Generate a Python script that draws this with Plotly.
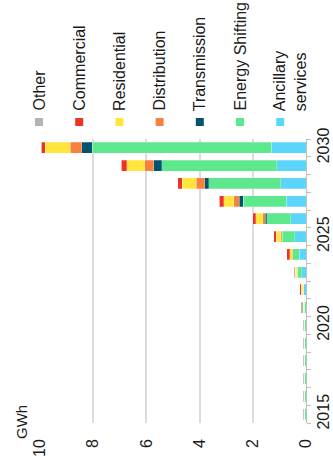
import plotly.graph_objects as go

# ---- data (GWh) ----
years = list(range(2015, 2031))
ancillary       = [0, 0, 0, 0, 0, 0, 0, 0.08, 0.16, 0.26, 0.43, 0.58, 0.74, 0.95, 1.10, 1.31]
energy_shifting = [0.07, 0.07, 0.07, 0.07, 0.07, 0.07, 0.06, 0.03, 0.17, 0.24, 0.47, 0.90, 1.62, 2.70, 4.33, 6.72]
transmission    = [0, 0, 0, 0, 0, 0, 0, 0, 0, 0, 0.01, 0.05, 0.15, 0.16, 0.30, 0.41]
distribution    = [0, 0, 0, 0, 0, 0, 0, 0.02, 0.01, 0.02, 0.04, 0.09, 0.20, 0.32, 0.33, 0.43]
residential     = [0, 0, 0, 0, 0, 0, 0.04, 0.04, 0.06, 0.10, 0.16, 0.26, 0.38, 0.53, 0.68, 0.94]
commercial      = [0, 0, 0, 0, 0, 0, 0, 0.06, 0.05, 0.10, 0.10, 0.13, 0.17, 0.17, 0.21, 0.15]
other           = [0.03, 0.03, 0.03, 0.03, 0.03, 0.03, 0.09, 0, 0, 0, 0, 0, 0, 0, 0, 0]

x_ticks = [0, 2, 4, 6, 8, 10]
year_labels = [2015, 2020, 2025, 2030]

# stacking order: from zero outward
series = [
    ("Ancillary<br>services", ancillary, "#5bd5fb"),
    ("Energy Shifting", energy_shifting, "#5ee88d"),
    ("Transmission", transmission, "#005470"),
    ("Distribution", distribution, "#f6823e"),
    ("Residential", residential, "#ffe53c"),
    ("Commercial", commercial, "#ee3326"),
    ("Other", other, "#b3b3b3"),
]

FONT = "Liberation Sans, Arial, sans-serif"
W, H = 333, 466
ML, MR, MT, MB = 40, 27, 139, 43
PW, PH = W - ML - MR, H - MT - MB

def px2paper_x(px):
    return (px - ML) / PW

def px2paper_y(py):
    return (H - MB - py) / PH

fig = go.Figure()
for name, vals, col in series:
    fig.add_trace(go.Bar(
        x=vals, y=years, orientation="h", name=name,
        marker=dict(color=col, line=dict(color="rgba(255,255,255,0.5)", width=0.5)),
        showlegend=False,
    ))
# invisible trace to carry the labelled year axis
fig.add_trace(go.Scatter(x=[None], y=[None], yaxis="y2", showlegend=False,
                         hoverinfo="skip"))

annotations = []
shapes = []

# custom rotated legend (left to right: Other ... Ancillary)
legend_items = list(reversed(series))
for i, (name, vals, col) in enumerate(legend_items):
    cx = 39 + i * 40.2
    shapes.append(dict(type="rect", xref="paper", yref="paper",
                       x0=px2paper_x(cx - 4), x1=px2paper_x(cx + 4),
                       y0=px2paper_y(126), y1=px2paper_y(118),
                       fillcolor=col, line=dict(width=0)))
    tx = cx if "<br>" not in name else cx + 10
    annotations.append(dict(text=name, xref="paper", yref="paper",
                            x=px2paper_x(tx), y=px2paper_y(113),
                            xanchor="center", yanchor="bottom", align="left",
                            textangle=-90, showarrow=False,
                            font=dict(family=FONT, size=16, color="#1a1a1a")))

# GWh unit label
annotations.append(dict(text="GWh", xref="paper", yref="paper",
                        x=px2paper_x(21), y=px2paper_y(441),
                        xanchor="center", yanchor="bottom",
                        textangle=-90, showarrow=False,
                        font=dict(family=FONT, size=15, color="#1a1a1a")))

fig.update_layout(
    width=W, height=H,
    margin=dict(l=ML, r=MR, t=MT, b=MB, pad=0, autoexpand=False),
    barmode="stack", bargap=0.38,
    plot_bgcolor="white", paper_bgcolor="white",
    font=dict(family=FONT, size=16, color="#1a1a1a"),
    xaxis=dict(range=[10, 0], tickvals=x_ticks, ticktext=[str(v) for v in x_ticks],
               tickangle=-90, showgrid=True, gridcolor="#dcdcdc", gridwidth=1.5,
               zeroline=False, showline=False, ticks="", ticklabelstandoff=12,
               automargin=False,
               tickfont=dict(family=FONT, size=16, color="#1a1a1a")),
    yaxis=dict(range=[2014.5, 2030.5], side="right", showgrid=False, zeroline=False,
               showline=True, linecolor="#c0c0c0", linewidth=1,
               ticks="outside", ticklen=4, tickcolor="#c0c0c0",
               tickvals=[y - 0.5 for y in years] + [years[-1] + 0.5],
               showticklabels=False, automargin=False),
    yaxis2=dict(range=[2014.5, 2030.5], overlaying="y", side="right",
                showgrid=False, zeroline=False, showline=False, ticks="",
                tickvals=year_labels, ticktext=[str(v) for v in year_labels],
                tickangle=-90, ticklabelstandoff=6, automargin=False,
                tickfont=dict(family=FONT, size=16, color="#1a1a1a")),
    annotations=annotations, shapes=shapes,
)

fig.write_html("out.html")
